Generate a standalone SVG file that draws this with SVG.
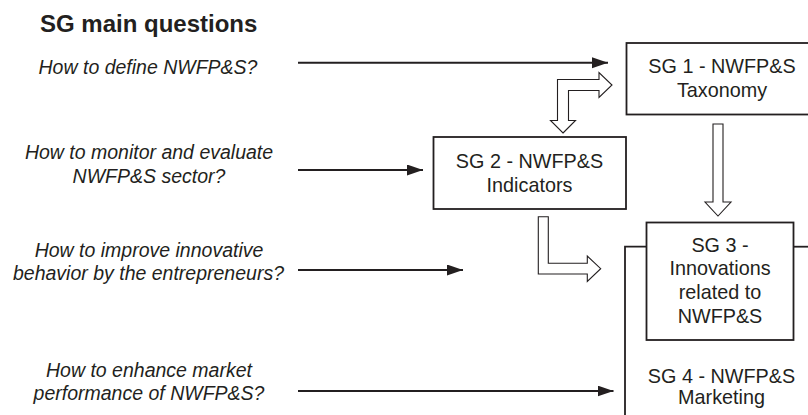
<svg xmlns="http://www.w3.org/2000/svg" width="808" height="415" viewBox="0 0 808 415">
  <defs>
    <marker id="solid-head" markerUnits="userSpaceOnUse" markerWidth="17" markerHeight="12" refX="16" refY="5.5" orient="auto">
      <path d="M0,0 L16,5.5 L0,11 Z" fill="#231f20"/>
    </marker>
  </defs>
  <style>
    .title { font-family: "Liberation Sans", Arial, sans-serif; font-weight: bold; font-size: 24px; fill: #231f20; }
    .question { font-family: "Liberation Sans", Arial, sans-serif; font-style: italic; font-size: 19.5px; fill: #231f20; text-anchor: middle; }
    .label { font-family: "Liberation Sans", Arial, sans-serif; font-size: 19.8px; fill: #231f20; text-anchor: middle; }
    .box { fill: #ffffff; stroke: #231f20; stroke-width: 1.8; }
    .frame { fill: none; stroke: #231f20; stroke-width: 1.8; }
    .line { stroke: #231f20; stroke-width: 2; fill: none; marker-end: url(#solid-head); }
    .hollow { fill: #ffffff; stroke: #231f20; stroke-width: 1.1; stroke-linejoin: miter; }
  </style>

  <rect width="808" height="415" fill="#ffffff"/>

  <!-- column heading and questions -->
  <text class="title" x="40" y="32.3">SG main questions</text>
  <g id="questions">
    <text class="question" x="148" y="74">How to define NWFP&amp;S?</text>
    <text class="question" x="149" y="159">How to monitor and evaluate</text>
    <text class="question" x="149" y="183">NWFP&amp;S sector?</text>
    <text class="question" x="149" y="256.7">How to improve innovative</text>
    <text class="question" x="148.5" y="280">behavior by the entrepreneurs?</text>
    <text class="question" x="149" y="376.7">How to enhance market</text>
    <text class="question" x="149" y="400">performance of NWFP&amp;S?</text>
  </g>

  <!-- SG 4: large frame behind SG 3 -->
  <g id="sg4">
    <path class="frame" d="M646 246.7 H625 V420"/>
    <path class="frame" d="M794 246.7 H812"/>
    <text class="label" x="721.5" y="382.7">SG 4 - NWFP&amp;S</text>
    <text class="label" x="721.5" y="404">Marketing</text>
  </g>

  <g id="sg1">
    <rect class="box" x="626.5" y="43" width="200" height="71.5"/>
    <text class="label" x="722" y="73">SG 1 - NWFP&amp;S</text>
    <text class="label" x="722" y="97">Taxonomy</text>
  </g>

  <g id="sg2">
    <rect class="box" x="433.5" y="137" width="192.5" height="72"/>
    <text class="label" x="529.5" y="168">SG 2 - NWFP&amp;S</text>
    <text class="label" x="529.5" y="192">Indicators</text>
  </g>

  <g id="sg3">
    <rect class="box" x="646.5" y="222.5" width="147" height="117.5"/>
    <text class="label" x="720" y="251.7">SG 3 -</text>
    <text class="label" x="720" y="275">Innovations</text>
    <text class="label" x="720" y="299">related to</text>
    <text class="label" x="720" y="323">NWFP&amp;S</text>
  </g>

  <g id="connectors">
    <!-- question arrows -->
    <line class="line" x1="298" y1="62.7" x2="608" y2="62.7"/>
    <line class="line" x1="298" y1="170" x2="423" y2="170"/>
    <line class="line" x1="298" y1="270" x2="463" y2="270"/>
    <line class="line" x1="298" y1="391" x2="613.5" y2="391"/>

    <!-- SG 1 / SG 2 two-way hollow arrow -->
    <polygon class="hollow" points="563,133 575.5,120.5 568.5,120.5 568.5,90.5 599,90.5 599,97.5 612,85 599,72.5 599,79.5 557.5,79.5 557.5,120.5 550.5,120.5"/>
    <!-- SG 1 to SG 3 -->
    <polygon class="hollow" points="713,124 723,124 723,202 731,202 718,216 705,202 713,202"/>
    <!-- SG 2 to SG 3 -->
    <polygon class="hollow" points="538.3,216.7 548.3,216.7 548.3,263.3 587.3,263.3 587.3,256 600.7,268.7 587.3,281.5 587.3,274 538.3,274"/>
  </g>
</svg>
